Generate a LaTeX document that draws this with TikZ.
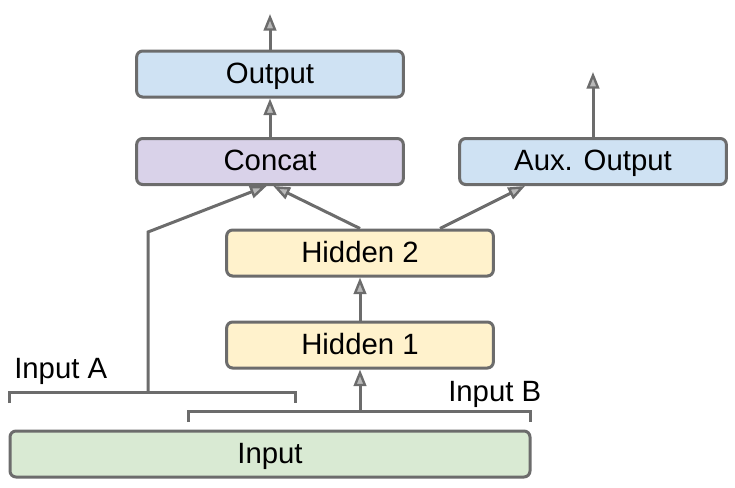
\documentclass[tikz,border=0pt]{standalone}
\usepackage{fontspec}
\setmainfont{Liberation Sans}
\usetikzlibrary{positioning, arrows.meta}
\definecolor{edgegray}{RGB}{108,108,108}
\definecolor{tipgray}{RGB}{185,185,185}
\definecolor{outblue}{RGB}{207,226,243}
\definecolor{catpurple}{RGB}{217,210,233}
\definecolor{hidyellow}{RGB}{255,242,204}
\definecolor{ingreen}{RGB}{217,234,211}
\tikzset{layer/.style={rectangle, rounded corners=4.5pt, minimum width=200pt, minimum height=34.5pt, text height=16pt, text depth=2.5pt, text centered, draw=edgegray, line width=2.25pt, font=\fontsize{22}{26}\selectfont},
         outbox/.style={layer, fill=outblue},
         catbox/.style={layer, fill=catpurple},
         hidbox/.style={layer, fill=hidyellow},
         inbox/.style={layer, fill=ingreen, minimum width=390pt},
         link/.style={draw=edgegray, line width=2.25pt, -{Triangle[length=12.5pt, width=9.5pt, fill=tipgray, line width=1.8pt]}},
         bracket/.style={draw=edgegray, line width=2.25pt},
         label/.style={anchor=base west, inner sep=0pt, font=\fontsize{22}{26}\selectfont}}

\begin{document}
\begin{tikzpicture}[x=0.75pt, y=-0.75pt]
        \useasboundingbox (0,0) rectangle (735,487);

        \node (input)[inbox] at (270,454){Input};

        % the two input slices
        \coordinate (inAleft) at (9,403);
        \coordinate (inAright) at (295,403);
        \coordinate (inA) at (148,392);
        \draw [bracket] (inAleft) |- (inA) -| (inAright);
        \coordinate (inBleft) at (188,422);
        \coordinate (inBright) at (530,422);
        \coordinate (inB) at (360,411);
        \draw [bracket] (inBleft) |- (inB) -| (inBright);
        \node (labelA)[label] at (14,378){Input A};
        \node (labelB)[label] at (448,401){Input B};

        \node (hidden1)[hidbox] at (360,345){Hidden 1};
        \draw [link] (inB) -- (hidden1);
        \node (hidden2)[hidbox] at (360,253){Hidden 2};
        \draw [link] (hidden1) -- (hidden2);

        \node (concat)[catbox] at (270,161.5){Concat};
        \coordinate (bendA) at (148,232);
        \draw [link] (inA) -- (bendA) -- ([xshift=-2.5pt]concat.south);
        \draw [link] (hidden2.north) -- ([xshift=2.5pt]concat.south);

        \node (aux)[outbox] at (593,161.5){Aux. Output};
        \draw [link] ([xshift=60pt]hidden2.north) -- ([xshift=-51pt]aux.south);
        \coordinate (auxtop) at (593,72);
        \draw [link] (aux) -- (auxtop);

        \node (output)[outbox] at (270,74){Output};
        \draw [link] (concat) -- (output);
        \coordinate (outtop) at (270,14);
        \draw [link] (output) -- (outtop);
    \end{tikzpicture}
\end{document}
